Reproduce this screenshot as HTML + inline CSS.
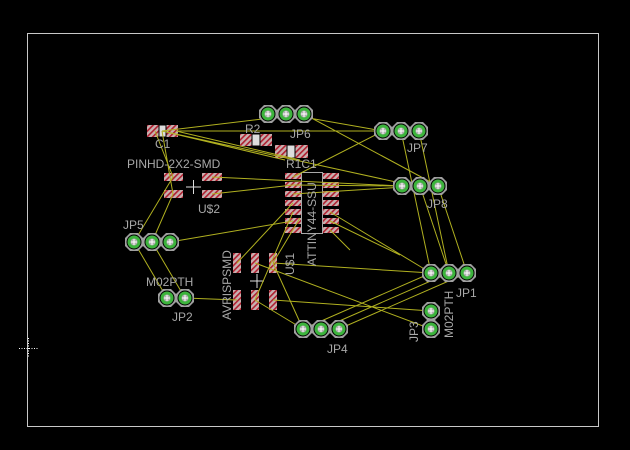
<!DOCTYPE html>
<html><head><style>
html,body{margin:0;padding:0;background:#000;}
svg{display:block}
text{font-family:"Liberation Sans",sans-serif;fill:#a8a8a8;font-size:12px}
</style></head><body>
<svg width="630" height="450" viewBox="0 0 630 450" xmlns="http://www.w3.org/2000/svg">
<defs>
<pattern id="h" width="4" height="4" patternUnits="userSpaceOnUse" patternTransform="rotate(45)">
<rect width="4" height="4" fill="#c8b0b0"/><rect width="1.6" height="4" fill="#b02030"/></pattern>
<g id="p">
<polygon points="-4,-9 4,-9 9,-4 9,4 4,9 -4,9 -9,4 -9,-4" fill="#a0a0a0"/>
<circle r="7.5" fill="#000"/>
<circle r="6.5" fill="#3cb43c"/>
<circle r="3.5" fill="#b0b0b0"/>
<path d="M-3,0H3M0,-3V3" stroke="#fff" stroke-width="1"/>
</g>
</defs>
<rect x="27.5" y="33.5" width="571" height="393" fill="none" stroke="#c8c8c8" stroke-width="1"/>
<path d="M19,348.5H38M28.5,338V358" stroke="#fff" stroke-dasharray="1,1.5"/>

<!-- SMD pads -->
<g fill="url(#h)">
<rect x="147" y="125" width="31" height="12"/>
<rect x="240" y="134" width="32" height="12"/>
<rect x="275" y="145" width="33" height="13"/>
<rect x="164" y="173" width="19" height="8"/><rect x="164" y="190" width="19" height="8"/>
<rect x="202" y="173" width="20" height="8"/><rect x="202" y="190" width="20" height="8"/>
<rect x="285" y="173" width="17" height="6"/><rect x="285" y="182" width="17" height="6"/>
<rect x="285" y="191" width="17" height="6"/><rect x="285" y="200" width="17" height="6"/>
<rect x="285" y="209" width="17" height="6"/><rect x="285" y="218" width="17" height="6"/>
<rect x="285" y="227" width="17" height="6"/>
<rect x="322" y="173" width="17" height="6"/><rect x="322" y="182" width="17" height="6"/>
<rect x="322" y="191" width="17" height="6"/><rect x="322" y="200" width="17" height="6"/>
<rect x="322" y="209" width="17" height="6"/><rect x="322" y="218" width="17" height="6"/>
<rect x="322" y="227" width="17" height="6"/>
<rect x="233" y="253" width="8" height="20"/><rect x="251" y="253" width="8" height="20"/><rect x="269" y="253" width="8" height="20"/>
<rect x="233" y="290" width="8" height="20"/><rect x="251" y="290" width="8" height="20"/><rect x="269" y="290" width="8" height="20"/>
</g>
<g fill="#ddd" stroke="#000" stroke-width="1">
<rect x="159" y="125" width="7" height="12"/><rect x="252" y="134" width="8" height="12"/><rect x="287" y="145" width="8" height="13"/>
</g>
<rect x="301.5" y="172.5" width="21" height="61" fill="none" stroke="#a8a8a8"/>
<path d="M186,187H201M193.5,180V194M250,281H264M257,274V288" stroke="#ddd"/>

<!-- airwires -->
<g stroke="#b0b020" stroke-width="1" fill="none">
<path d="M162,131L304,114M162,131L285,160M162,131L419,187M178,131L383,131M176,131L300,160"/>
<path d="M155,131L173,177L134,242M162,131L173,194L152,242"/>
<path d="M212,177L401,186M212,194L293,185"/>
<path d="M286,114L383,131M304,114L438,186"/>
<path d="M383,131L293,177M293,185L402,186M293,194L420,186"/>
<path d="M401,131L431,273M419,131L449,273M420,186L449,273M438,186L467,273"/>
<path d="M170,242L293,221M134,242L167,298M152,242L185,298M185,298L237,300"/>
<path d="M330,212L431,273M330,221L400,255M330,230L350,250"/>
<path d="M237,263L293,203M255,300L293,212M273,263L300,218M273,263L303,329"/>
<path d="M273,263L431,273M255,263L431,329M273,300L431,311M255,300L303,329"/>
<path d="M321,329L449,273M339,329L467,273M303,329L431,273"/>
</g>

<!-- pads -->
<use href="#p" x="268" y="114"/><use href="#p" x="286" y="114"/><use href="#p" x="304" y="114"/>
<use href="#p" x="383" y="131"/><use href="#p" x="401" y="131"/><use href="#p" x="419" y="131"/>
<use href="#p" x="402" y="186"/><use href="#p" x="420" y="186"/><use href="#p" x="438" y="186"/>
<use href="#p" x="134" y="242"/><use href="#p" x="152" y="242"/><use href="#p" x="170" y="242"/>
<use href="#p" x="431" y="273"/><use href="#p" x="449" y="273"/><use href="#p" x="467" y="273"/>
<use href="#p" x="303" y="329"/><use href="#p" x="321" y="329"/><use href="#p" x="339" y="329"/>
<use href="#p" x="167" y="298"/><use href="#p" x="185" y="298"/>
<use href="#p" x="431" y="311"/><use href="#p" x="431" y="329"/>

<!-- labels -->
<text x="155" y="148">C1</text>
<text x="245" y="133">R2</text>
<text x="286" y="168">R1C1</text>
<text x="127" y="168">PINHD-2X2-SMD</text>
<text x="198" y="213">U$2</text>
<text x="290" y="138">JP6</text>
<text x="407" y="152">JP7</text>
<text x="427" y="208">JP8</text>
<text x="123" y="229">JP5</text>
<text x="146" y="286">M02PTH</text>
<text x="172" y="321">JP2</text>
<text x="456" y="297">JP1</text>
<text x="327" y="353">JP4</text>
<text transform="translate(316,266) rotate(-90)">ATTINY44-SSU</text>
<text transform="translate(231,320) rotate(-90)">AVRISPSMD</text>
<text transform="translate(294,275) rotate(-90)">U$1</text>
<text transform="translate(418,342) rotate(-90)">JP3</text>
<text transform="translate(453,338) rotate(-90)">M02PTH</text>
</svg>
</body></html>
